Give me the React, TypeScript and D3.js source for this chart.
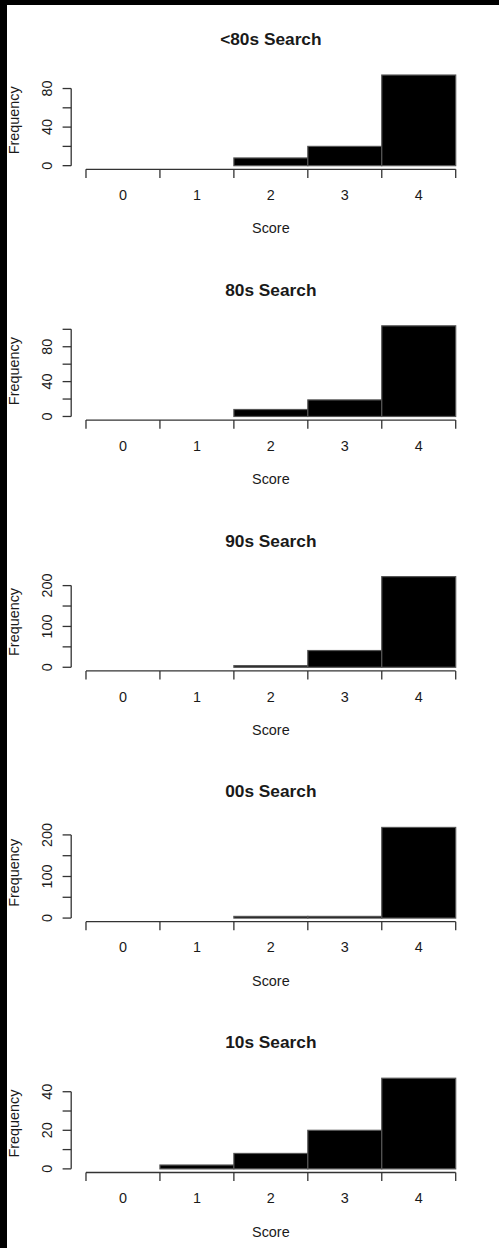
import { useEffect, useRef } from "react";
import { select, scaleLinear, ticks, max } from "d3";

// histogram panels, one per decade
const titles = ["<80s Search", "80s Search", "90s Search", "00s Search", "10s Search"];
const scores = [0, 1, 2, 3, 4];
const countsPre80s = [0, 0, 8, 20, 94];
const counts80s = [0, 0, 8, 19, 104];
const counts90s = [0, 0, 4, 41, 222];
const counts00s = [0, 0, 4, 4, 218];
const counts10s = [0, 2, 8, 20, 47];
const allCounts = [countsPre80s, counts80s, counts90s, counts00s, counts10s];

const xLabel = "Score";
const yLabel = "Frequency";

const Width = 499;
const Height = 1248;

function App() {
  const svgRef = useRef<SVGSVGElement>(null);

  useEffect(() => {
    const svg = select(svgRef.current);
    svg.selectAll("*").remove();

    const font = "'Liberation Sans', Arial, Helvetica, sans-serif";
    const lineCol = "#333";
    const textCol = "#1a1a1a";
    const Margin = { left: 71.2, right: 28.5, top: 71.4 };
    const plotHeight = 97.9;
    const panelStep = 250.8;
    const tick = 8.6;

    svg.append("rect").attr("width", Width).attr("height", Height).attr("fill", "#fff");

    // bins run from -0.5 to 4.5, R pads the axis range by 4%
    const xScale = scaleLinear()
      .domain([-0.5 - 0.2, 4.5 + 0.2])
      .range([Margin.left, Width - Margin.right]);
    const edges = scores.map((s) => s - 0.5).concat([scores[scores.length - 1] + 0.5]);

    allCounts.forEach((counts, k) => {
      const top = Margin.top + panelStep * k;
      const bottom = top + plotHeight;
      const mx = max(counts) as number;

      const yScale = scaleLinear()
        .domain([-0.04 * mx, 1.04 * mx])
        .range([bottom, top]);

      const g = svg.append("g").attr("class", "panel");

      // title
      g.append("text")
        .attr("x", (xScale.range()[0] + xScale.range()[1]) / 2)
        .attr("y", top - 26.4)
        .attr("text-anchor", "middle")
        .attr("font-family", font)
        .attr("font-size", 17.3)
        .attr("font-weight", "bold")
        .attr("fill", textCol)
        .text(titles[k]);

      // bars
      g.selectAll(".bar")
        .data(counts)
        .join("rect")
        .attr("class", "bar")
        .attr("x", (d, i) => xScale(scores[i] - 0.5))
        .attr("width", (d, i) => xScale(scores[i] + 0.5) - xScale(scores[i] - 0.5))
        .attr("y", (d) => yScale(d))
        .attr("height", (d) => yScale(0) - yScale(d))
        .attr("fill", "#000")
        .attr("stroke", "#555")
        .attr("stroke-width", 1.2);

      // x axis
      g.append("line")
        .attr("x1", xScale(edges[0]))
        .attr("x2", xScale(edges[edges.length - 1]))
        .attr("y1", bottom)
        .attr("y2", bottom)
        .attr("stroke", lineCol)
        .attr("stroke-width", 1.3);
      g.selectAll(".xTick")
        .data(edges)
        .join("line")
        .attr("class", "xTick")
        .attr("x1", (d) => xScale(d))
        .attr("x2", (d) => xScale(d))
        .attr("y1", bottom)
        .attr("y2", bottom + tick)
        .attr("stroke", lineCol)
        .attr("stroke-width", 1.3);
      g.selectAll(".xText")
        .data(scores)
        .join("text")
        .attr("class", "xText")
        .attr("x", (d) => xScale(d))
        .attr("y", bottom + 30.7)
        .attr("text-anchor", "middle")
        .attr("font-family", font)
        .attr("font-size", 14.4)
        .attr("fill", textCol)
        .text((d) => d);
      g.append("text")
        .attr("x", (xScale.range()[0] + xScale.range()[1]) / 2)
        .attr("y", bottom + 64)
        .attr("text-anchor", "middle")
        .attr("font-family", font)
        .attr("font-size", 14.4)
        .attr("fill", textCol)
        .text(xLabel);

      // y axis, R only labels every other tick here
      const yTicks = ticks(0, mx, 5);
      g.append("line")
        .attr("x1", Margin.left)
        .attr("x2", Margin.left)
        .attr("y1", yScale(yTicks[0]))
        .attr("y2", yScale(yTicks[yTicks.length - 1]))
        .attr("stroke", lineCol)
        .attr("stroke-width", 1.3);
      g.selectAll(".yTick")
        .data(yTicks)
        .join("line")
        .attr("class", "yTick")
        .attr("x1", Margin.left - tick)
        .attr("x2", Margin.left)
        .attr("y1", (d) => yScale(d))
        .attr("y2", (d) => yScale(d))
        .attr("stroke", lineCol)
        .attr("stroke-width", 1.3);
      g.selectAll(".yText")
        .data(yTicks.filter((d, i) => i % 2 === 0))
        .join("text")
        .attr("class", "yText")
        .attr("transform", (d) => `translate(${Margin.left - 19.7}, ${yScale(d)}) rotate(-90)`)
        .attr("text-anchor", "middle")
        .attr("font-family", font)
        .attr("font-size", 14.4)
        .attr("fill", textCol)
        .text((d) => d);
      g.append("text")
        .attr("transform", `translate(19, ${(top + bottom) / 2}) rotate(-90)`)
        .attr("text-anchor", "middle")
        .attr("font-family", font)
        .attr("font-size", 14.4)
        .attr("fill", textCol)
        .text(yLabel);
    });

    // black frame on the top and left edges
    svg.append("rect").attr("x", 0).attr("y", 0).attr("width", Width).attr("height", 5).attr("fill", "#000");
    svg.append("rect").attr("x", 0).attr("y", 0).attr("width", 7).attr("height", Height).attr("fill", "#000");
  }, []);

  return (
    <svg
      ref={svgRef}
      width={Width}
      height={Height}
      style={{ position: "absolute", left: 0, top: 0, display: "block" }}
    ></svg>
  );
}

export default App;
